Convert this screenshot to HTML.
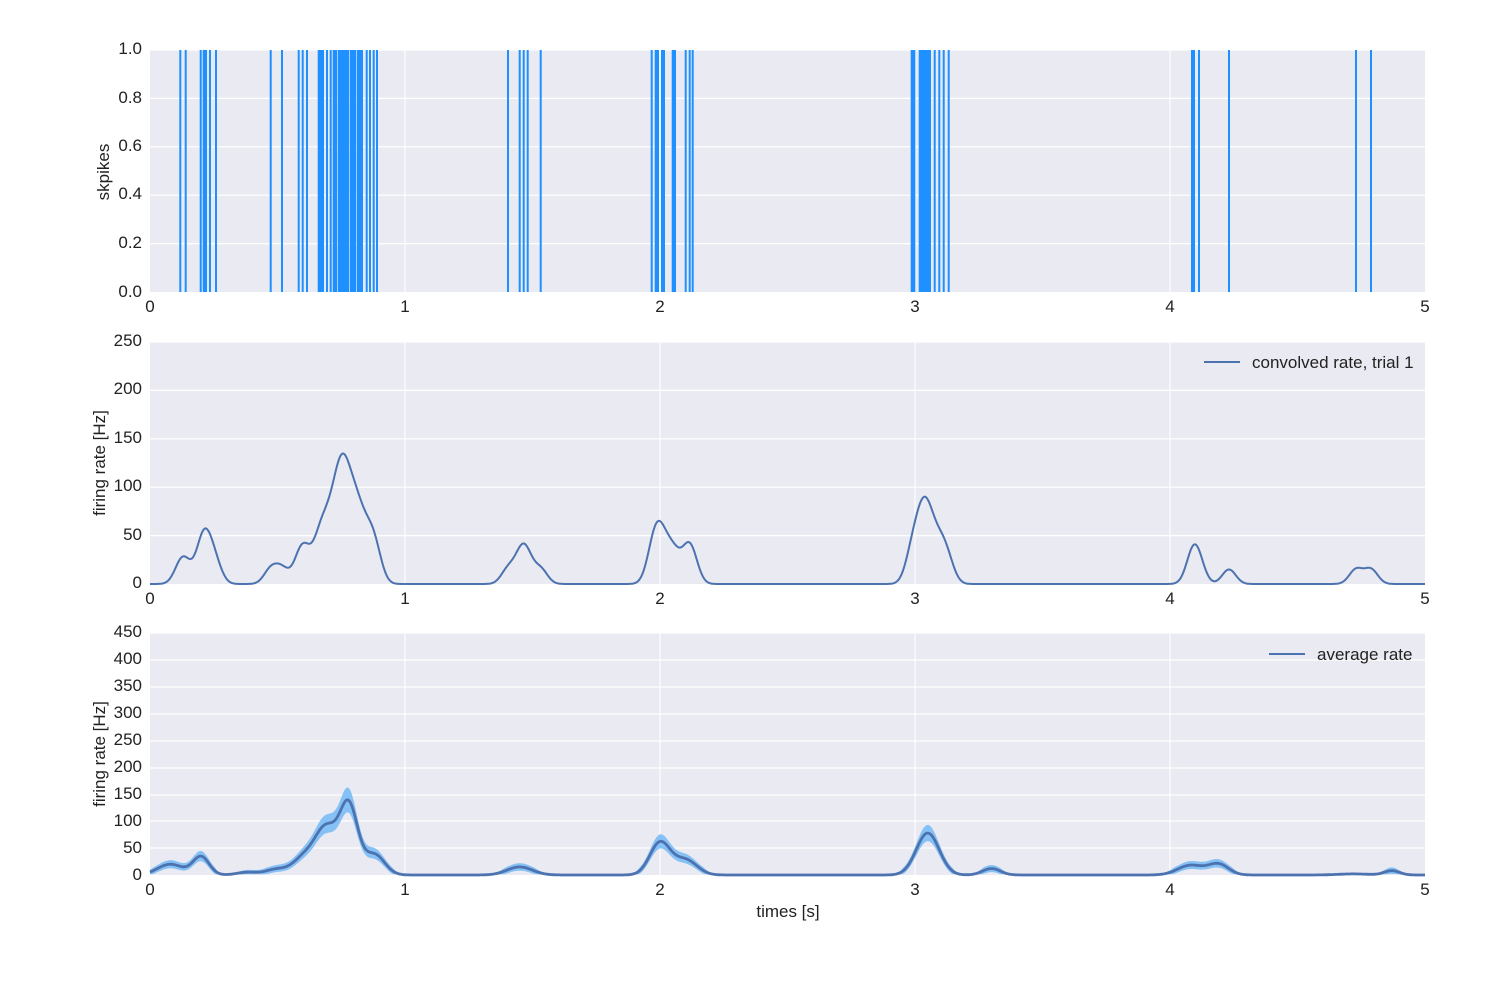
<!DOCTYPE html>
<html><head><style>body{margin:0;background:#fff}svg text{font-family:"Liberation Sans",sans-serif;font-size:17px;fill:#222}</style></head>
<body>
<svg id="s" width="1500" height="1000" xmlns="http://www.w3.org/2000/svg">
<rect x="150" y="50" width="1275" height="242" fill="#eaeaf2"/>
<rect x="150" y="342" width="1275" height="242" fill="#eaeaf2"/>
<rect x="150" y="633" width="1275" height="242" fill="#eaeaf2"/>
<g id="grid" stroke="#fff" stroke-width="1.2"></g>
<g id="spk" fill="#1e90ff"></g>
<g id="curves"></g>
<g text-anchor="end">
<text x="142" y="54">1.0</text><text x="142" y="103">0.8</text><text x="142" y="151">0.6</text><text x="142" y="199">0.4</text><text x="142" y="248">0.2</text><text x="142" y="297">0.0</text>
<text x="142" y="346">250</text><text x="142" y="394">200</text><text x="142" y="443">150</text><text x="142" y="491">100</text><text x="142" y="540">50</text><text x="142" y="588">0</text>
<text x="142" y="637">450</text><text x="142" y="664">400</text><text x="142" y="691">350</text><text x="142" y="718">300</text><text x="142" y="745">250</text><text x="142" y="772">200</text><text x="142" y="799">150</text><text x="142" y="826">100</text><text x="142" y="853">50</text><text x="142" y="880">0</text>
</g>
<g id="xt" text-anchor="middle"></g>
<text x="788" y="917" text-anchor="middle">times [s]</text>
<text transform="translate(109,172) rotate(-90)" text-anchor="middle">skpikes</text>
<text transform="translate(105,463) rotate(-90)" text-anchor="middle">firing rate [Hz]</text>
<text transform="translate(105,754) rotate(-90)" text-anchor="middle">firing rate [Hz]</text>
<line x1="1204" y1="362" x2="1240" y2="362" stroke="#4c72b0" stroke-width="2"/>
<text x="1252" y="368">convolved rate, trial 1</text>
<line x1="1269" y1="654" x2="1305" y2="654" stroke="#4c72b0" stroke-width="2"/>
<text x="1317" y="660">average rate</text>
</svg>
<script>
const NS="http://www.w3.org/2000/svg";
function el(p,t,a){const e=document.createElementNS(NS,t);for(const k in a)e.setAttribute(k,a[k]);p.appendChild(e);return e;}
const g=document.getElementById('grid'),xt=document.getElementById('xt');
const X=t=>150+t*255;
[[50,292,[50,98.4,146.8,195.2,243.6]],[342,584,[342,390.4,438.8,487.2,535.6]],[633,875,[633,660,687,714,741,768,795,821,848]]].forEach(([a,b,ys])=>{
 for(let i=1;i<5;i++)el(g,'line',{x1:X(i),x2:X(i),y1:a,y2:b});
 ys.forEach(y=>el(g,'line',{x1:150,x2:1425,y1:y,y2:y}));
 for(let i=0;i<=5;i++){const t=el(xt,'text',{x:X(i),y:b+20});t.textContent=i;}
});
const sp=[180.3,185.7,200.7,[203,206.7],210,216,270.7,282,298.7,302.7,307,[318,323.7],327,330.7,[333,336.7],[338,348.7],[350,355.7],[357,362.7],366.7,370,373.7,377,508,519.7,523.7,527.7,540.7,
651.7,[655,658.7],[661.3,664.7],[672,675.7],685.7,689.7,692.7,[911,915],[919,930.7],934.7,939.3,943.7,948.7,1192,1194,1199,1229,1356,1371];
const S=document.getElementById('spk');const times=[];
sp.forEach(s=>{if(Array.isArray(s)){el(S,'rect',{x:s[0]-0.3,y:50,width:s[1]-s[0]+0.6,height:242});for(let p=s[0];p<=s[1]+0.01;p+=2.2)times.push((p-150)/255);}else{el(S,'rect',{x:s-1,y:50,width:2,height:242});times.push((s-150)/255);}});
times.push((341-150)/255,(344.5-150)/255);
const C=document.getElementById('curves');
const sig=0.0266,norm=1/(sig*Math.sqrt(2*Math.PI));
let d='';for(let px=150;px<=1425;px++){const t=(px-150)/255;let r=0;times.forEach(ti=>{r+=norm*Math.exp(-((t-ti)**2)/(2*sig*sig));});d+=(px==150?'M':'L')+px+','+(584-r*0.968).toFixed(1);}
el(C,'path',{d:d,fill:'none',stroke:'#4c72b0','stroke-width':2});
const bumps=[[0.08,20,0.05],[0.2,34,0.032],[0.38,5,0.04],[0.5,11,0.045],[0.6,28,0.04],[0.69,88,0.045],[0.78,125,0.035],[0.88,38,0.04],[1.45,15,0.05],[2.0,60,0.04],[2.1,28,0.045],[3.05,78,0.045],[3.3,12,0.035],[4.08,18,0.05],[4.19,20,0.04],[4.72,2,0.06],[4.87,8,0.03]];
const f=t=>{let r=0;bumps.forEach(([c,h,s])=>r+=h*Math.exp(-((t-c)**2)/(2*s*s)));return r;};
let up='',lo='',ln='';const Y3=v=>(875-v*0.5378).toFixed(1);
const band=v=>v*0.13+5*Math.min(1,v/8);
for(let px=150;px<=1425;px++){const t=(px-150)/255,v=f(t);up+=(px==150?'M':'L')+px+','+Y3(v+band(v));ln+=(px==150?'M':'L')+px+','+Y3(v);}
for(let px=1425;px>=150;px--){const t=(px-150)/255,v=f(t);lo+='L'+px+','+Y3(Math.max(0,v-band(v)));}
el(C,'path',{d:up+lo+'Z',fill:'#86c1f5'});
el(C,'path',{d:ln,fill:'none',stroke:'#4c72b0','stroke-width':2.8});
</script>
</body></html>
